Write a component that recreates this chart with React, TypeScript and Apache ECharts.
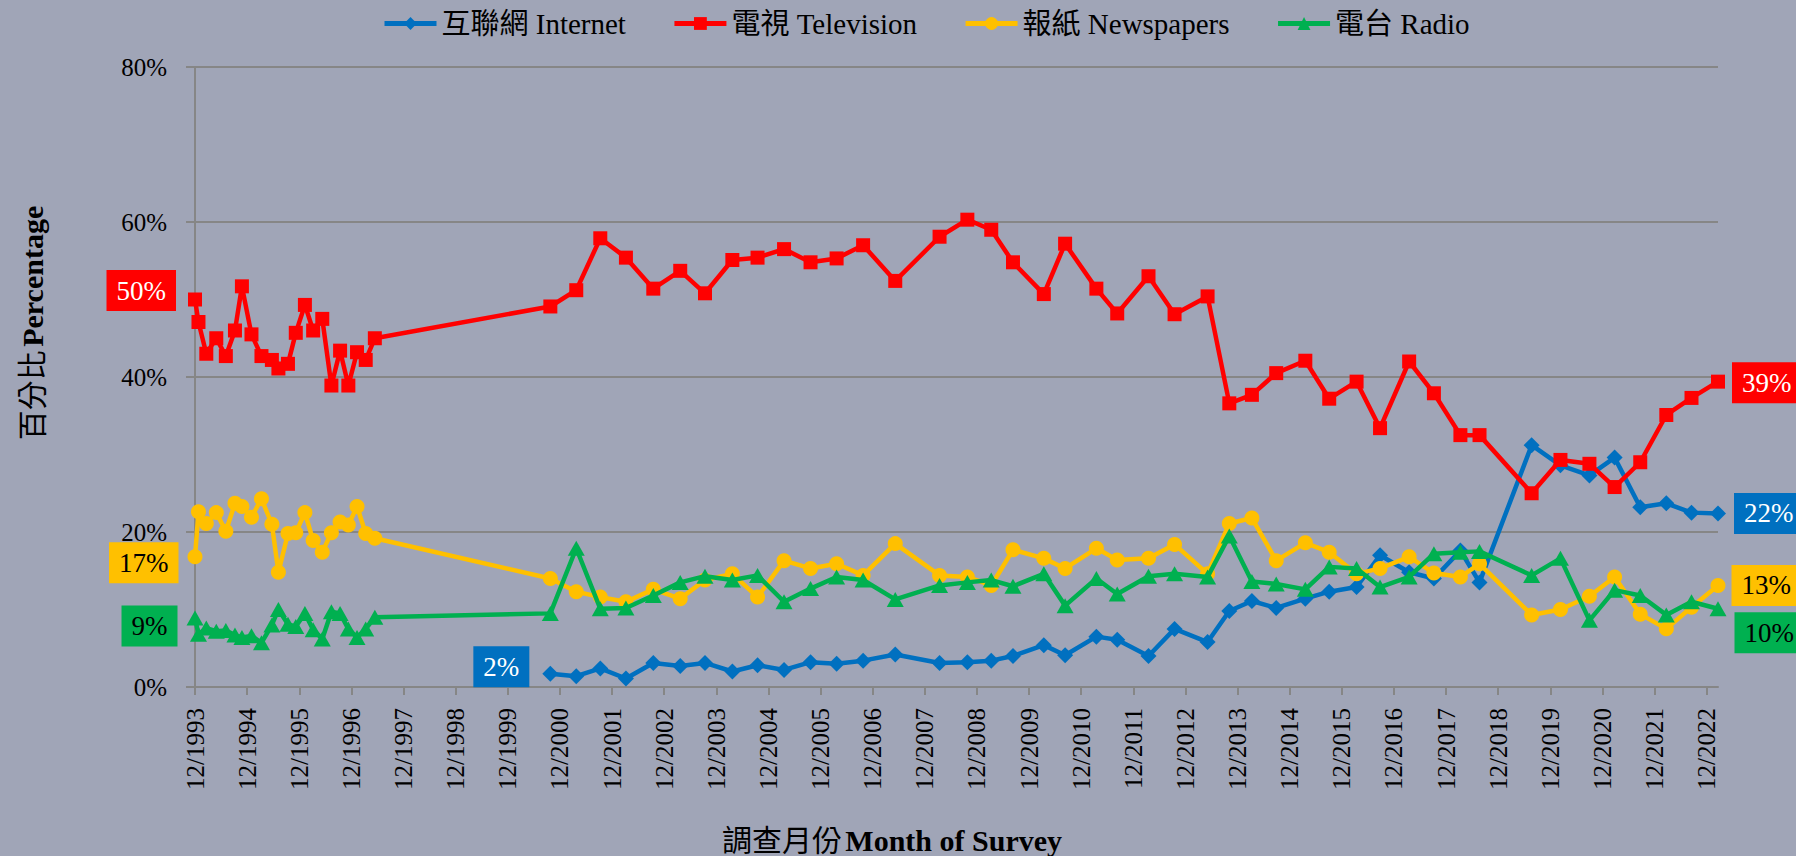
import React, { useEffect, useRef } from "react";
import * as echarts from "echarts";

// Survey dates (one per survey; all four series share them)
const surveyDates = [
  "1993-12-01", "1993-12-25", "1994-02-19", "1994-04-28", "1994-07-04", "1994-09-07",
  "1994-10-25", "1995-01-01", "1995-03-10", "1995-05-22", "1995-07-07", "1995-09-13",
  "1995-11-07", "1996-01-10", "1996-03-07", "1996-05-10", "1996-07-13", "1996-09-13",
  "1996-11-10", "1997-01-10", "1997-03-10", "1997-05-13",
  "2000-09-25", "2001-03-24", "2001-09-10", "2002-03-07", "2002-09-16", "2003-03-22",
  "2003-09-13", "2004-03-22", "2004-09-16", "2005-03-19", "2005-09-22", "2006-03-22",
  "2006-09-25", "2007-05-07", "2008-03-13", "2008-09-25", "2009-03-10", "2009-08-10",
  "2010-03-13", "2010-08-10", "2011-03-16", "2011-08-10", "2012-03-16", "2012-09-16",
  "2013-05-04", "2013-10-04", "2014-03-10", "2014-08-28", "2015-03-19", "2015-09-04",
  "2016-03-13", "2016-08-25", "2017-03-16", "2017-09-07", "2018-03-10", "2018-07-22",
  "2019-07-22", "2020-02-11", "2020-09-01", "2021-02-25", "2021-08-22", "2022-02-22",
  "2022-08-16", "2023-02-19",
];

const internet = [
  null, null, null, null, null, null, null, null, null, null, null,
  null, null, null, null, null, null, null, null, null, null, null,
  1.7, 1.4, 2.4, 1.1, 3.1, 2.7, 3.1, 2.0, 2.8, 2.2, 3.2, 3.0, 3.4, 4.2,
  3.1, 3.2, 3.4, 4.0, 5.4, 4.1, 6.5, 6.1, 4.0, 7.5, 5.8, 9.8, 11.1, 10.2,
  11.4, 12.3, 12.9, 17.0, 14.8, 14.0, 17.6, 13.5, 31.2, 28.6, 27.3, 29.6,
  23.2, 23.7, 22.5, 22.4,
];

const television = [
  50.0, 47.1, 43.0, 45.0, 42.7, 46.0, 51.7, 45.5, 42.7, 42.2, 41.1,
  41.7, 45.7, 49.3, 46.0, 47.5, 38.9, 43.4, 38.9, 43.2, 42.2, 45.0,
  49.1, 51.2, 57.9, 55.4, 51.4, 53.7, 50.8, 55.1, 55.4, 56.5, 54.8, 55.3, 57.0, 52.4,
  58.1, 60.3, 59.0, 54.8, 50.7, 57.2, 51.4, 48.2, 53.0, 48.1, 50.4, 36.6, 37.7, 40.5,
  42.1, 37.2, 39.4, 33.4, 42.0, 37.9, 32.5, 32.5, 25.0, 29.3, 28.8, 25.8,
  29.0, 35.1, 37.3, 39.4,
];

const newspapers = [
  16.8, 22.6, 21.1, 22.5, 20.1, 23.7, 23.3, 21.9, 24.3, 21.0, 14.8,
  19.8, 19.9, 22.5, 18.9, 17.4, 19.9, 21.3, 20.9, 23.3, 19.8, 19.2,
  14.0, 12.3, 11.6, 11.0, 12.6, 11.4, 13.8, 14.6, 11.6, 16.3, 15.3, 15.9, 14.4, 18.5,
  14.4, 14.2, 13.1, 17.7, 16.6, 15.3, 17.9, 16.4, 16.6, 18.4, 14.6, 21.1, 21.8, 16.3,
  18.6, 17.4, 14.6, 15.3, 16.8, 14.7, 14.2, 15.9, 9.3, 10.0, 11.7, 14.2,
  9.4, 7.5, 10.3, 13.1,
];

const radio = [
  8.9, 6.8, 7.6, 7.2, 7.3, 6.7, 6.4, 6.6, 5.7, 8.0, 10.0,
  8.1, 7.8, 9.5, 7.4, 6.2, 9.7, 9.5, 7.5, 6.4, 7.5, 9.0,
  9.5, 17.9, 10.1, 10.2, 11.8, 13.5, 14.3, 13.8, 14.4, 11.0, 12.7, 14.2, 13.8, 11.3,
  13.1, 13.5, 13.8, 13.0, 14.6, 10.5, 14.0, 12.0, 14.3, 14.6, 14.2, 19.5, 13.6, 13.3,
  12.6, 15.5, 15.3, 12.9, 14.2, 17.2, 17.4, 17.5, 14.4, 16.6, 8.6, 12.5,
  11.8, 9.3, 11.0, 10.1,
];

const seriesNames = ["互聯網 Internet", "電視 Television", "報紙 Newspapers", "電台 Radio"];
const seriesColors = ["#0070C0", "#FF0000", "#FFC000", "#00B050"];
const seriesSymbols = ["diamond", "rect", "circle", "triangle"];

const yTickValues = [0, 20, 40, 60, 80];
const firstYear = 1993;
const lastTickYear = 2022;

const SERIF = "'Liberation Serif', 'Times New Roman', 'Noto Sans CJK TC', serif";

function monthIndex(s: string): number {
  const [y, m, d] = s.split("-").map(Number);
  return (y - firstYear) * 12 + (m - 12) + (d - 1) / 30;
}

type LabelCfg = { side: "left" | "right"; dist: number; dy: number; bg: string; fg: string };

function makeLabel(c: LabelCfg) {
  return {
    show: true,
    position: c.side,
    distance: c.dist,
    offset: [0, c.dy],
    formatter: (p: any) => Math.round(p.value[1]) + "%",
    backgroundColor: c.bg,
    color: c.fg,
    padding: [7, 10, 6, 10],
    fontSize: 27,
    fontFamily: SERIF,
    lineHeight: 28,
  };
}

function buildData(values: (number | null)[], first: LabelCfg, last: LabelCfg) {
  const pts: any[] = [];
  values.forEach((v, i) => {
    if (v === null || v === undefined) return;
    pts.push({ value: [monthIndex(surveyDates[i]), v] });
  });
  pts[0].label = makeLabel(first);
  pts[pts.length - 1].label = makeLabel(last);
  return pts;
}

export default function App() {
  const ref = useRef<HTMLDivElement>(null);

  useEffect(() => {
    if (!ref.current) return;
    const chart = echarts.init(ref.current, undefined, { renderer: "svg" });

    const xMax = monthIndex(surveyDates[surveyDates.length - 1]);
    const xTicks: number[] = [];
    for (let y = firstYear; y <= lastTickYear; y++) xTicks.push((y - firstYear) * 12);

    const dataSets = [
      buildData(
        internet,
        { side: "left", dist: 13, dy: -7, bg: "#0070C0", fg: "#FFFFFF" },
        { side: "right", dist: 8, dy: 0, bg: "#0070C0", fg: "#FFFFFF" }
      ),
      buildData(
        television,
        { side: "left", dist: 12, dy: -9, bg: "#FF0000", fg: "#FFFFFF" },
        { side: "right", dist: 7, dy: 1, bg: "#FF0000", fg: "#FFFFFF" }
      ),
      buildData(
        newspapers,
        { side: "left", dist: 9, dy: 6, bg: "#FFC000", fg: "#000000" },
        { side: "right", dist: 6, dy: 0, bg: "#FFC000", fg: "#000000" }
      ),
      buildData(
        radio,
        { side: "left", dist: 9, dy: 8, bg: "#00B050", fg: "#000000" },
        { side: "right", dist: 8, dy: 24, bg: "#00B050", fg: "#000000" }
      ),
    ];

    const symbolSizes = [16, 14, 15, [17, 15]];

    chart.setOption({
      animation: false,
      backgroundColor: "#A0A5B7",
      textStyle: { fontFamily: SERIF },
      legend: {
        left: 377,
        top: 4,
        itemWidth: 52,
        itemHeight: 16,
        itemGap: 46,
        lineStyle: { width: 5 },
        textStyle: { fontSize: 29, fontFamily: SERIF, color: "#000" },
        data: seriesNames,
      },
      grid: { left: 195, right: 78, top: 67, bottom: 169, containLabel: false },
      xAxis: {
        type: "value",
        min: 0,
        max: xMax,
        interval: 12,
        axisLine: { show: true, lineStyle: { color: "#868686", width: 2 } },
        axisTick: {
          show: true,
          length: 8,
          lineStyle: { color: "#868686", width: 2 },
          customValues: xTicks,
        },
        axisLabel: {
          rotate: 90,
          margin: 21,
          fontSize: 25,
          fontFamily: SERIF,
          color: "#000",
          customValues: xTicks,
          formatter: (v: number) =>
            Math.abs(v % 12) < 1e-6 ? "12/" + (firstYear + Math.round(v / 12)) : "",
        },
        splitLine: { show: false },
      },
      yAxis: {
        type: "value",
        min: yTickValues[0],
        max: yTickValues[yTickValues.length - 1],
        interval: 20,
        axisLine: { show: true, lineStyle: { color: "#868686", width: 2 } },
        axisTick: { show: true, length: 9, lineStyle: { color: "#868686", width: 2 } },
        axisLabel: {
          margin: 28,
          fontSize: 25,
          fontFamily: SERIF,
          color: "#000",
          formatter: "{value}%",
        },
        splitLine: { show: true, lineStyle: { color: "#868686", width: 2 } },
      },
      graphic: [
        {
          type: "text",
          x: 32,
          y: 323,
          rotation: Math.PI / 2,
          style: {
            text: "{a|百分比} {b|Percentage}",
            align: "center",
            verticalAlign: "middle",
            fill: "#000",
            rich: {
              a: { fontSize: 30, fontFamily: SERIF, fill: "#000" },
              b: { fontSize: 30, fontFamily: SERIF, fontWeight: "bold", fill: "#000" },
            },
          },
        },
        {
          type: "text",
          x: 892,
          y: 840,
          style: {
            text: "{a|調查月份} {b|Month of Survey}",
            align: "center",
            verticalAlign: "middle",
            fill: "#000",
            rich: {
              a: { fontSize: 30, fontFamily: SERIF, fill: "#000" },
              b: { fontSize: 30, fontFamily: SERIF, fontWeight: "bold", fill: "#000" },
            },
          },
        },
      ],
      series: seriesNames.map((name, i) => ({
        name,
        type: "line",
        data: dataSets[i],
        symbol: seriesSymbols[i],
        symbolSize: symbolSizes[i],
        color: seriesColors[i],
        lineStyle: { color: seriesColors[i], width: 4.5 },
        itemStyle: { color: seriesColors[i] },
        z: 2 + i,
        label: { show: false },
        emphasis: { disabled: true },
      })),
    });

    return () => chart.dispose();
  }, []);

  return (
    <div
      ref={ref}
      style={{ position: "fixed", left: 0, top: 0, width: 1796, height: 856, background: "#A0A5B7" }}
    />
  );
}
